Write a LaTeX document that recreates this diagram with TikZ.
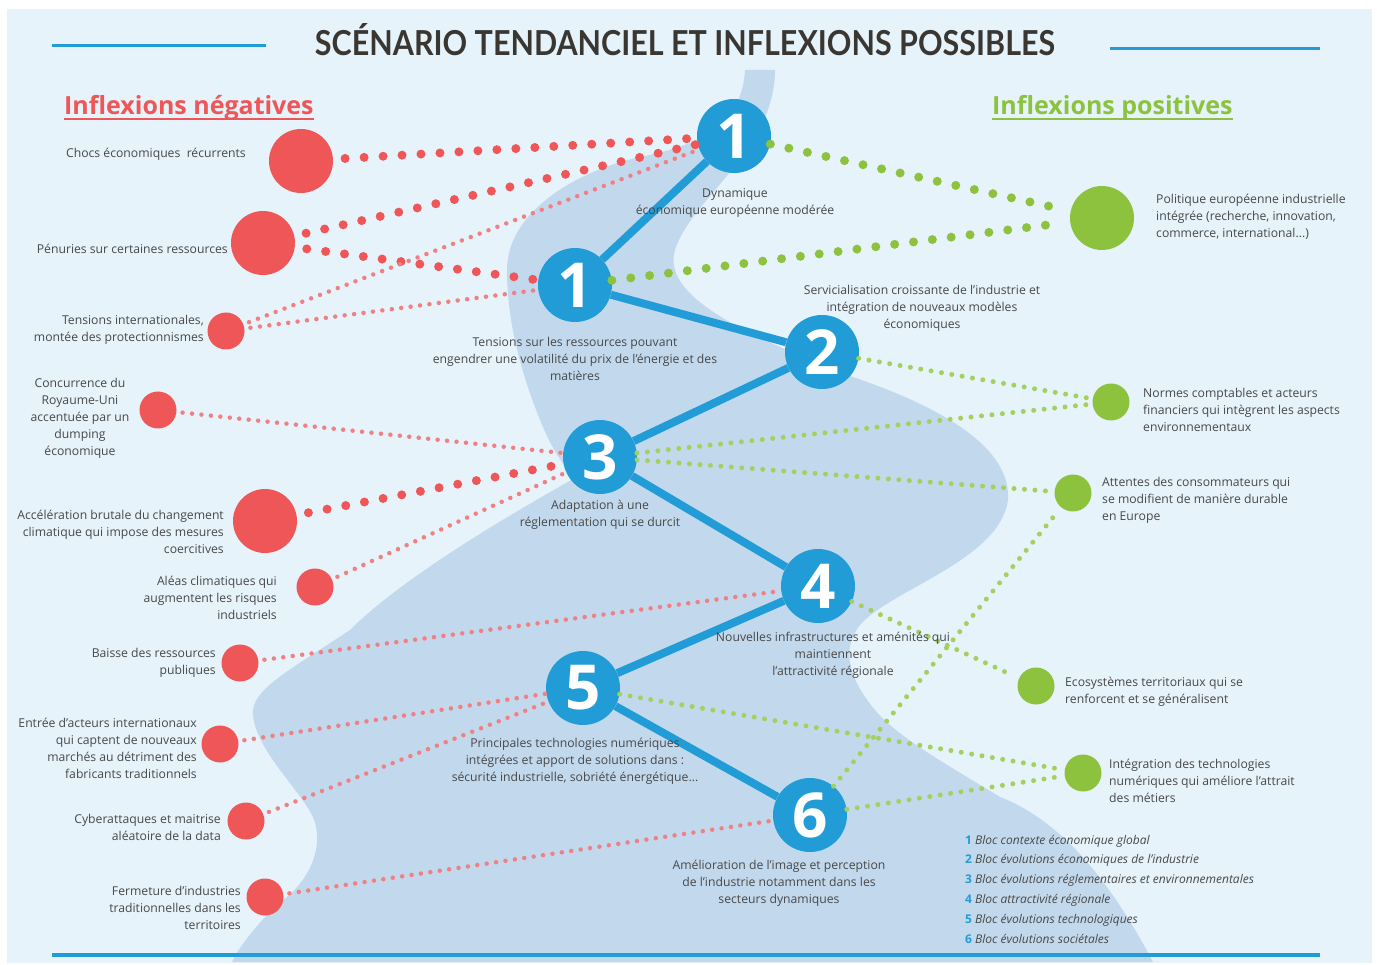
\documentclass[tikz,border=0pt]{standalone}
\usepackage{fontspec}
\setmainfont{Open Sans}
\newfontfamily\titlefont{Lato}
\usetikzlibrary{positioning}

\definecolor{bgblue}{RGB}{230,243,251}
\definecolor{bandblue}{RGB}{194,217,237}
\definecolor{stepblue}{RGB}{33,156,214}
\definecolor{negred}{RGB}{239,86,88}
\definecolor{negpink}{RGB}{241,128,130}
\definecolor{posgreen}{RGB}{141,194,63}
\definecolor{poslight}{RGB}{165,207,95}
\definecolor{txtgray}{RGB}{72,72,72}
\definecolor{titlegray}{RGB}{58,54,50}

\newcommand\blocline[2]{{\color{stepblue}\bfseries #1} \textit{#2}}

\tikzset{
  step_pt/.style={circle,minimum size=74pt,inner sep=0pt,fill=stepblue,text=white,font=\fontsize{62}{62}\selectfont\bfseries},
  neg_pt/.style={circle,minimum size=37pt,inner sep=0pt,fill=negred},
  neg_big/.style={neg_pt,minimum size=64pt},
  pos_pt/.style={circle,minimum size=37pt,inner sep=0pt,fill=posgreen},
  pos_big/.style={pos_pt,minimum size=64pt},
  neg_line/.style={draw=negred,line width=9pt,line cap=round,dash pattern=on 0pt off 19pt,shorten <=12pt},
  neg_dots/.style={draw=negpink,line width=4.5pt,line cap=round,dash pattern=on 0pt off 9.5pt,shorten <=6pt},
  pos_line/.style={draw=posgreen,line width=9pt,line cap=round,dash pattern=on 0pt off 19pt,shorten >=12pt},
  pos_dots/.style={draw=poslight,line width=5pt,line cap=round,dash pattern=on 0pt off 10.5pt,shorten >=6pt},
}

\begin{document}
\begin{tikzpicture}[
  x=1pt, y=-1pt,
  every node/.style={inner sep=0pt},
  txt/.style={text=txtgray,font=\fontsize{12.2}{17}\selectfont},
  head_txt/.style={font=\fontsize{25}{25}\selectfont\bfseries},
  rule_line/.style={draw=stepblue,line width=3pt},
  chain_line/.style={draw=stepblue,line width=8pt},
  ]

  % background and band
  \fill[white] (0,0) rectangle (1377,965);
  \fill[bgblue] (7,9) rectangle (1372,963);
  \fill[bandblue] (745,70) .. controls (742,125) and (700,145) .. (640,157)
    .. controls (580,170) and (507,210) .. (507,270)
    .. controls (507,320) and (520,370) .. (540,420)
    .. controls (552,450) and (565,468) .. (575,478)
    .. controls (500,520) and (400,580) .. (350,630)
    .. controls (290,670) and (250,690) .. (253,715)
    .. controls (256,750) and (300,790) .. (313,817)
    .. controls (325,845) and (310,880) .. (283,900)
    .. controls (260,920) and (240,945) .. (232,962)
    -- (1153,962)
    .. controls (1110,880) and (1060,820) .. (1000,797)
    .. controls (960,772) and (900,740) .. (875,710)
    .. controls (850,680) and (840,650) .. (860,625)
    .. controls (890,590) and (1000,560) .. (1008,500)
    .. controls (1012,440) and (920,400) .. (853,377)
    .. controls (760,340) and (660,300) .. (675,250)
    .. controls (690,200) and (775,150) .. (775,70) -- cycle;

  % title
  \node[anchor=base,text=titlegray] (title) at (685,56)
    {\resizebox{740pt}{32pt}{\titlefont\bfseries SCÉNARIO TENDANCIEL ET INFLEXIONS POSSIBLES}};
  \draw[rule_line] (52,46) -- (266,46);
  \draw[rule_line] (1110,49) -- (1320,49);
  \draw[rule_line,line width=4pt] (52,955) -- (1320,955);

  \node[head_txt,text=negred,anchor=base west] (neg_head) at (64,115) {Inflexions négatives};
  \draw[negred,line width=1.8pt] ([yshift=-4pt]neg_head.base west) -- ([yshift=-4pt]neg_head.base east);
  \node[head_txt,text=posgreen,anchor=base west] (pos_head) at (992,115) {Inflexions positives};
  \draw[posgreen,line width=1.8pt] ([yshift=-4pt]pos_head.base west) -- ([yshift=-4pt]pos_head.base east);

  % scenario steps
  \node[step_pt] (b1a) at (734,136) {1};
  \node[step_pt] (b1b) at (575,285) {1};
  \node[step_pt] (b2) at (822,352) {2};
  \node[step_pt] (b3) at (600,457) {3};
  \node[step_pt] (b4) at (818,586) {4};
  \node[step_pt] (b5) at (583,688) {5};
  \node[step_pt] (b6) at (810,815) {6};

  % negative inflexions
  \node[neg_big] (n1) at (301,161) {};
  \node[neg_big] (n2) at (263,243) {};
  \node[neg_pt] (n3) at (226,331) {};
  \node[neg_pt] (n4) at (158,410) {};
  \node[neg_big] (n5) at (265,521) {};
  \node[neg_pt] (n6) at (315,587) {};
  \node[neg_pt] (n7) at (240,663) {};
  \node[neg_pt] (n8) at (220,744) {};
  \node[neg_pt] (n9) at (246,821) {};
  \node[neg_pt] (n10) at (265,897) {};

  % positive inflexions
  \node[pos_big] (p1) at (1102,218) {};
  \node[pos_pt] (p2) at (1111,402) {};
  \node[pos_pt] (p3) at (1073,493) {};
  \node[pos_pt] (p4) at (1036,686) {};
  \node[pos_pt] (p5) at (1083,773) {};

  % links
  \foreach \a/\b in {n1/b1a,n2/b1a,n2/b1b,n5/b3}
    \draw[neg_line] (\a) -- (\b);
  \foreach \a/\b in {n3/b1a,n3/b1b,n4/b3,n6/b3,n7/b4,n8/b5,n9/b5,n10/b6}
    \draw[neg_dots] (\a) -- (\b);
  \foreach \a/\b in {b1a/p1,b1b/p1}
    \draw[pos_line] (\a) -- (\b);
  \foreach \a/\b in {b2/p2,b3/p2,b3/p3,b4/p4,b5/p5,b6/p3,b6/p5}
    \draw[pos_dots] (\a) -- (\b);

  \draw[chain_line] (b1a) -- (b1b) -- (b2) -- (b3) -- (b4) -- (b5) -- (b6);

  % step texts
  \node[txt,align=center] (t_b1a) at (735,203) {Dynamique\\économique européenne modérée};
  \node[txt,align=center] (t_b1b) at (575,359) {Tensions sur les ressources pouvant\\engendrer une volatilité du prix de l'énergie et des\\matières};
  \node[txt,align=center] (t_b2) at (922,308) {Servicialisation croissante de l'industrie et\\intégration de nouveaux modèles\\économiques};
  \node[txt,align=center] (t_b3) at (600,515) {Adaptation à une\\réglementation qui se durcit};
  \node[txt,align=center] (t_b4) at (833,655) {Nouvelles infrastructures et aménités qui\\maintiennent\\l'attractivité régionale};
  \node[txt,align=center] (t_b5) at (575,761) {Principales technologies numériques\\intégrées et apport de solutions dans :\\sécurité industrielle, sobriété énergétique...};
  \node[txt,align=center] (t_b6) at (779,883) {Amélioration de l'image et perception\\de l'industrie notamment dans les\\secteurs dynamiques};

  % negative texts
  \node[txt,anchor=east] (t_n1) at (246,154) {Chocs économiques\ \ récurrents};
  \node[txt,anchor=east] (t_n2) at (228,249) {Pénuries sur certaines ressources};
  \node[txt,anchor=east,align=right] (t_n3) at (204,330) {Tensions internationales,\\montée des protectionnismes};
  \node[txt,align=center] (t_n4) at (80,418) {Concurrence du\\Royaume-Uni\\accentuée par un\\dumping\\économique};
  \node[txt,anchor=east,align=right] (t_n5) at (224,532) {Accélération brutale du changement\\climatique qui impose des mesures\\coercitives};
  \node[txt,anchor=east,align=right] (t_n6) at (277,598) {Aléas climatiques qui\\augmentent les risques\\industriels};
  \node[txt,anchor=east,align=right] (t_n7) at (216,663) {Baisse des ressources\\publiques};
  \node[txt,anchor=east,align=right] (t_n8) at (197,748) {Entrée d'acteurs internationaux\\qui captent de nouveaux\\marchés au détriment des\\fabricants traditionnels};
  \node[txt,anchor=east,align=right] (t_n9) at (221,827) {Cyberattaques et maitrise\\aléatoire de la data};
  \node[txt,anchor=east,align=right] (t_n10) at (241,908) {Fermeture d'industries\\traditionnelles dans les\\territoires};

  % positive texts
  \node[txt,anchor=west,align=left] (t_p1) at (1156,217) {Politique européenne industrielle\\intégrée (recherche, innovation,\\commerce, international...)};
  \node[txt,anchor=west,align=left] (t_p2) at (1143,410) {Normes comptables et acteurs\\financiers qui intègrent les aspects\\environnementaux};
  \node[txt,anchor=west,align=left] (t_p3) at (1102,500) {Attentes des consommateurs qui\\se modifient de manière durable\\en Europe};
  \node[txt,anchor=west,align=left] (t_p4) at (1065,692) {Ecosystèmes territoriaux qui se\\renforcent et se généralisent};
  \node[txt,anchor=west,align=left] (t_p5) at (1109,781) {Intégration des technologies\\numériques qui améliore l'attrait\\des métiers};

  % legend
  \node[txt,anchor=west,align=left,font=\fontsize{12}{19.8}\selectfont] (legend) at (965,889)
    {\blocline{1}{Bloc contexte économique global}\\
     \blocline{2}{Bloc évolutions économiques de l'industrie}\\
     \blocline{3}{Bloc évolutions réglementaires et environnementales}\\
     \blocline{4}{Bloc attractivité régionale}\\
     \blocline{5}{Bloc évolutions technologiques}\\
     \blocline{6}{Bloc évolutions sociétales}};

\end{tikzpicture}
\end{document}
